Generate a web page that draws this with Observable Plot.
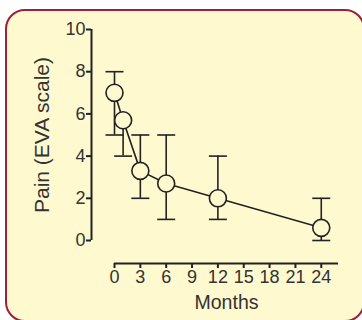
<!DOCTYPE html>
<html>
<head>
<meta charset="utf-8">
<script src="https://cdn.jsdelivr.net/npm/d3@7"></script>
<script src="https://cdn.jsdelivr.net/npm/@observablehq/plot@0.6"></script>
<style>
  html, body { margin: 0; padding: 0; background: #ffffff; width: 362px; height: 320px; overflow: hidden; }
  #box { position: absolute; box-sizing: border-box; left: 5px; top: 9px; width: 360px; height: 313px; border: 2.5px solid #9e1e3c; border-radius: 20px; background: #fef9cf; }
  #chart { position: absolute; left: 0; top: 0; }
</style>
</head>
<body>
<div id="box"></div>
<div id="chart"></div>
<script>
const months = [0, 1, 3, 6, 12, 24];
const painMean = [7, 5.7, 3.3, 2.7, 2, 0.6];
const painLow = [5, 4, 2, 1, 1, 0];
const painHigh = [8, 5.7, 5, 5, 4, 2];
const xTicks = [0, 3, 6, 9, 12, 15, 18, 21, 24];
const yTicks = [0, 2, 4, 6, 8, 10];
const xDomain = [0, 26];
const yDomain = [0, 10];
const xTitle = "Months";
const yTitle = "Pain (EVA scale)";

const data = months.map((m, i) => ({m, mean: painMean[i], lo: painLow[i], hi: painHigh[i]}));

const ink = "#222";
const txt = "#333";
const bg = "#fef9cf";
const cap = {draw(ctx, size) { const w = Math.sqrt(size / Math.PI); ctx.moveTo(-w, 0); ctx.lineTo(w, 0); }};

const plot = Plot.plot({
  width: 362,
  height: 320,
  marginLeft: 91,
  marginRight: 24,
  marginTop: 29,
  marginBottom: 57,
  style: {background: "transparent", fontFamily: "Liberation Sans, Arial, sans-serif", fontSize: "18px", color: txt, overflow: "visible"},
  x: {domain: xDomain, insetLeft: 23},
  y: {domain: yDomain, insetBottom: 23},
  marks: [
    Plot.ruleX([0], {y1: yDomain[0], y2: yDomain[1], dx: -23, stroke: ink, strokeWidth: 2}),
    Plot.ruleY([0], {x1: xDomain[0], x2: xDomain[1], dy: 23, stroke: ink, strokeWidth: 2}),
    Plot.axisY({ticks: yTicks, tickSize: 5, tickPadding: 1, fontSize: 18, label: null, stroke: ink, strokeWidth: 2, fill: txt}),
    Plot.axisX({ticks: xTicks, tickSize: 5, tickPadding: 2, fontSize: 18, label: null, stroke: ink, strokeWidth: 2, fill: txt}),
    Plot.text([yTitle], {y: (yDomain[0] + yDomain[1]) / 2, frameAnchor: "left", textAnchor: "middle", dx: -49, rotate: -90, fontSize: 21, fill: txt}),
    Plot.text([xTitle], {x: (xDomain[0] + xDomain[1]) / 2, frameAnchor: "bottom", textAnchor: "middle", dy: 45, fontSize: 19.5, fill: txt}),
    Plot.ruleX(data, {x: "m", y1: "lo", y2: "hi", stroke: ink, strokeWidth: 1.6}),
    Plot.dot(data, {x: "m", y: "lo", symbol: cap, r: 9, stroke: ink, strokeWidth: 1.6}),
    Plot.dot(data, {x: "m", y: "hi", symbol: cap, r: 9, stroke: ink, strokeWidth: 1.6}),
    Plot.line(data, {x: "m", y: "mean", stroke: ink, strokeWidth: 1.6}),
    Plot.dot(data, {x: "m", y: "mean", r: 8.5, fill: bg, stroke: ink, strokeWidth: 1.6})
  ]
});
document.getElementById("chart").appendChild(plot);
</script>
</body>
</html>
